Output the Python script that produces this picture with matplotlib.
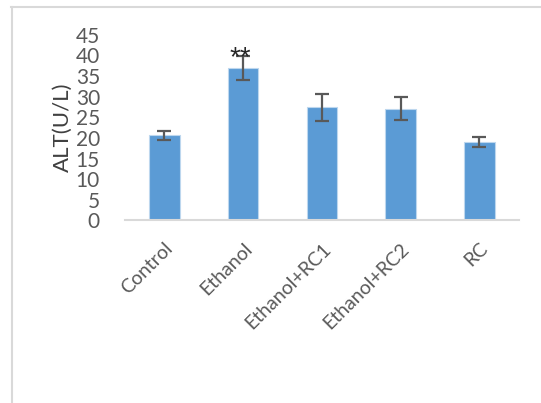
import matplotlib
matplotlib.use('Agg')
import matplotlib.pyplot as plt
from matplotlib.lines import Line2D

groups = ['Control', 'Ethanol', 'Ethanol+RC1', 'Ethanol+RC2', 'RC']
alt_mean = [20.6, 37.0, 27.4, 27.1, 19.0]
alt_err = [1.0, 2.9, 3.3, 2.7, 1.2]
marks = ['', '**', '', '', '']

plt.rcParams['font.family'] = ['Lato', 'DejaVu Sans']

fig = plt.figure(figsize=(5.41, 4.03), dpi=100)
ax = fig.add_axes([0.231, 0.453, 0.728, 0.461])

x = range(len(groups))
ax.bar(x, alt_mean, width=0.39, color='#5B9BD5', edgecolor='#BDD7EE', linewidth=0.8,
       yerr=alt_err, capsize=5,
       error_kw={'ecolor': '#595959', 'elinewidth': 1.6, 'capthick': 1.6})

# significance stars just above the error cap
for i, m in enumerate(marks):
    if m:
        ax.text(i - 0.04, alt_mean[i] + alt_err[i] - 0.5, m, ha='center', va='center',
                fontsize=20, color='#262626', family='Liberation Sans')

ax.set_xlim(-0.5, 4.5)
ax.set_ylim(0, 45)
ax.set_yticks(range(0, 46, 5))
ax.set_xticks(list(x))
ax.set_xticklabels(groups, rotation=45, ha='right', rotation_mode='anchor',
                   fontsize=14, color='#595959')
ax.tick_params(axis='y', labelsize=15, colors='#595959', length=0, pad=18)
ax.tick_params(axis='x', length=0, pad=14)
ax.set_ylabel('ALT(U/L)', fontsize=16, color='#404040', labelpad=2)

for s in ['top', 'right', 'left']:
    ax.spines[s].set_visible(False)
ax.spines['bottom'].set_color('#D9D9D9')
ax.spines['bottom'].set_linewidth(1.5)

# chart frame edges
fig.add_artist(Line2D([11 / 541, 1], [1 - 7 / 403] * 2, color='#D9D9D9', lw=1.5))
fig.add_artist(Line2D([12 / 541] * 2, [0, 1 - 7 / 403], color='#D9D9D9', lw=1.5))

fig.savefig('out.png', dpi=100)
